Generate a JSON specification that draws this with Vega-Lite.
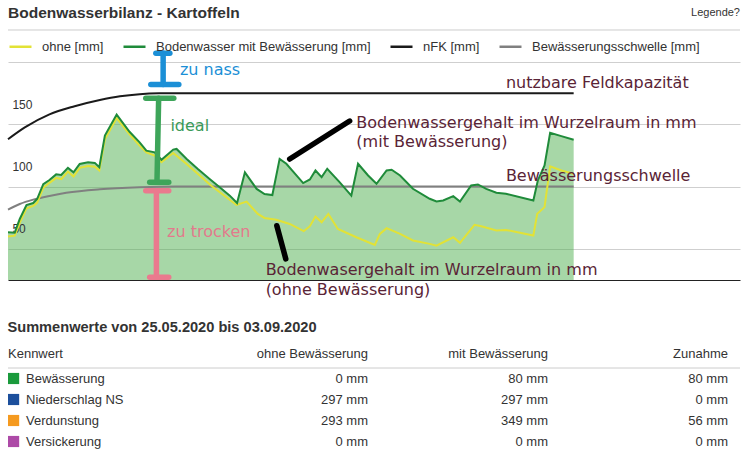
{
  "$schema": "https://vega.github.io/schema/vega-lite/v6.json",
  "background": "white",
  "padding": {"left": 4, "top": 6, "right": 9, "bottom": 0},
  "spacing": 22,
  "resolve": {"scale": {"fill": "independent", "stroke": "independent", "color": "independent"}},
  "config": {
    "view": {"stroke": null},
    "font": "Liberation Sans",
    "text": {"font": "Liberation Sans"},
    "title": {"font": "Liberation Sans"}
  },
  "datasets": {
    "mit": [
      {"tag":0,"mm":38.3},{"tag":1.2,"mm":38},{"tag":2.1,"mm":49},{"tag":3.3,"mm":60.2},{"tag":4.5,"mm":61.8},{"tag":5.2,"mm":65},{"tag":6.3,"mm":77},{"tag":7.4,"mm":80.3},{"tag":8.6,"mm":84.8},{"tag":9.5,"mm":84.3},{"tag":10.7,"mm":90},{"tag":11.7,"mm":86.5},{"tag":12.8,"mm":93.1},{"tag":14.3,"mm":94.5},{"tag":15.5,"mm":94},{"tag":16.3,"mm":90.5},{"tag":17.3,"mm":115.9},{"tag":19.4,"mm":132.8},{"tag":21.7,"mm":119},{"tag":23.5,"mm":110.5},{"tag":24.7,"mm":103.8},{"tag":26.2,"mm":102.5},{"tag":27.4,"mm":96.5},{"tag":29.5,"mm":104.7},{"tag":30.1,"mm":105.2},{"tag":31.9,"mm":97.2},{"tag":33.9,"mm":89.1},{"tag":36,"mm":81.1},{"tag":37.8,"mm":74.4},{"tag":39.6,"mm":67.7},{"tag":40.9,"mm":61.8},{"tag":42.3,"mm":86.4},{"tag":44.4,"mm":73.1},{"tag":45.8,"mm":69},{"tag":47.2,"mm":68.2},{"tag":48.5,"mm":97.2},{"tag":49.7,"mm":93.3},{"tag":52.7,"mm":77.8},{"tag":53.9,"mm":80.7},{"tag":54.9,"mm":87.9},{"tag":56,"mm":82.6},{"tag":57,"mm":89.3},{"tag":59.2,"mm":78.6},{"tag":61.3,"mm":67.8},{"tag":62.5,"mm":93.3},{"tag":64.3,"mm":83.9},{"tag":65.8,"mm":77.2},{"tag":67.6,"mm":87.9},{"tag":68.5,"mm":88.5},{"tag":70,"mm":83.9},{"tag":72.3,"mm":73.2},{"tag":75.3,"mm":65.2},{"tag":76.5,"mm":63},{"tag":77.7,"mm":63.8},{"tag":79.5,"mm":67.3},{"tag":80.7,"mm":63},{"tag":82.7,"mm":75.9},{"tag":83.9,"mm":76.7},{"tag":85.4,"mm":73.2},{"tag":87.2,"mm":70},{"tag":88.9,"mm":69.2},{"tag":93.8,"mm":63.8},{"tag":94.6,"mm":79.9},{"tag":95.8,"mm":92},{"tag":96.8,"mm":118.2},{"tag":98.8,"mm":115.5},{"tag":101,"mm":112.6}
    ],
    "ohne": [
      {"tag":0,"mm":35},{"tag":1.2,"mm":35.6},{"tag":2.1,"mm":46},{"tag":3.3,"mm":57.5},{"tag":4.5,"mm":59.5},{"tag":5.2,"mm":62},{"tag":6.3,"mm":74},{"tag":7.4,"mm":78},{"tag":8.6,"mm":82},{"tag":9.5,"mm":81},{"tag":10.7,"mm":87},{"tag":11.7,"mm":83},{"tag":12.8,"mm":90},{"tag":14.3,"mm":91.5},{"tag":15.5,"mm":91},{"tag":16.3,"mm":88},{"tag":17.3,"mm":113},{"tag":19.4,"mm":130},{"tag":21.7,"mm":117},{"tag":23.5,"mm":107.9},{"tag":24.7,"mm":102.5},{"tag":26.2,"mm":99.8},{"tag":27.4,"mm":94.5},{"tag":29.5,"mm":102},{"tag":31.9,"mm":93.1},{"tag":36.3,"mm":75.7},{"tag":40.8,"mm":60.2},{"tag":42.6,"mm":62.9},{"tag":44.6,"mm":53},{"tag":45.8,"mm":49.8},{"tag":47.9,"mm":48.4},{"tag":50.3,"mm":45},{"tag":52.8,"mm":39.2},{"tag":53.9,"mm":43.2},{"tag":54.9,"mm":51},{"tag":56,"mm":46.4},{"tag":57.2,"mm":53.1},{"tag":58.9,"mm":41},{"tag":62.2,"mm":34.3},{"tag":65.5,"mm":28.2},{"tag":66.4,"mm":37},{"tag":67.6,"mm":41.6},{"tag":70,"mm":37},{"tag":72.3,"mm":31.7},{"tag":75.3,"mm":29},{"tag":76.5,"mm":27.6},{"tag":79.5,"mm":34.3},{"tag":80.7,"mm":29.8},{"tag":83.3,"mm":44.3},{"tag":84.5,"mm":43.2},{"tag":87.2,"mm":39.7},{"tag":88.9,"mm":40.2},{"tag":93.8,"mm":35.7},{"tag":94.5,"mm":53.1},{"tag":95.8,"mm":58.5},{"tag":96.8,"mm":91.2},{"tag":98.8,"mm":87.9},{"tag":101,"mm":85.3}
    ],
    "nfk": [
      {"tag":0,"mm":113},{"tag":3,"mm":122.5},{"tag":7.4,"mm":133},{"tag":11.9,"mm":139.5},{"tag":16.4,"mm":144.5},{"tag":20,"mm":147.5},{"tag":23.5,"mm":149.2},{"tag":27,"mm":149.9},{"tag":30,"mm":150},{"tag":101,"mm":150}
    ],
    "schwelle": [
      {"tag":0,"mm":56.5},{"tag":2.1,"mm":61},{"tag":4.5,"mm":64.5},{"tag":7.4,"mm":67.5},{"tag":10.4,"mm":70},{"tag":16.4,"mm":72.8},{"tag":23.5,"mm":74.4},{"tag":30,"mm":75},{"tag":101,"mm":75}
    ],
    "skala": [
      {"mm": 50}, {"mm": 100}, {"mm": 150}
    ],
    "striche": [
      {"zone":"nass","tag":27.7,"tag2":27.7,"mm":182,"mm2":157},
      {"zone":"nass","tag":26.4,"tag2":28.9,"mm":182,"mm2":182},
      {"zone":"nass","tag":25.5,"tag2":30.5,"mm":157,"mm2":157},
      {"zone":"ideal","tag":26.9,"tag2":26.6,"mm":146,"mm2":78.5},
      {"zone":"ideal","tag":24.6,"tag2":29.6,"mm":146,"mm2":146},
      {"zone":"ideal","tag":25.3,"tag2":28.7,"mm":78.5,"mm2":78.5},
      {"zone":"trocken","tag":26.5,"tag2":26.5,"mm":71.7,"mm2":2.2},
      {"zone":"trocken","tag":24.6,"tag2":28.7,"mm":71.7,"mm2":71.7},
      {"zone":"trocken","tag":25.3,"tag2":28.7,"mm":2.2,"mm2":2.2},
      {"zone":"zeiger","tag":50.3,"tag2":61,"mm":97.1,"mm2":127.6},
      {"zone":"zeiger","tag":48,"tag2":49.6,"mm":43.6,"mm2":16.9}
    ],
    "beschriftung": [
      {"zone":"nass","tag":30.7,"mm":168.8,"text":"zu nass"},
      {"zone":"ideal","tag":29,"mm":123.9,"text":"ideal"},
      {"zone":"trocken","tag":28.4,"mm":38.5,"text":"zu trocken"},
      {"zone":"text","tag":88.9,"mm":158,"text":"nutzbare Feldkapazität"},
      {"zone":"text","tag":62.2,"mm":126.4,"text":"Bodenwassergehalt im Wurzelraum in mm\n(mit Bewässerung)"},
      {"zone":"text","tag":88.9,"mm":83.5,"text":"Bewässerungsschwelle"},
      {"zone":"text","tag":46,"mm":8,"text":"Bodenwasergehalt im Wurzelraum in mm\n(ohne Bewässerung)"}
    ],
    "tabelle": [
      {"kennwert":"Bewässerung","ohne":0,"mit":80,"zunahme":80},
      {"kennwert":"Niederschlag NS","ohne":297,"mit":297,"zunahme":0},
      {"kennwert":"Verdunstung","ohne":293,"mit":349,"zunahme":56},
      {"kennwert":"Versickerung","ohne":0,"mit":0,"zunahme":0}
    ],
    "kopf": [
      {"zeile":"Kennwert","spalte":"kennwert","titel":"Kennwert"},
      {"zeile":"Kennwert","spalte":"ohne","titel":"ohne Bewässerung"},
      {"zeile":"Kennwert","spalte":"mit","titel":"mit Bewässerung"},
      {"zeile":"Kennwert","spalte":"zunahme","titel":"Zunahme"}
    ]
  },
  "vconcat": [
    {
      "width": 732,
      "height": 218,
      "layer": [
        {
          "data": {"name": "mit"},
          "mark": {"type": "area", "fill": "#50b050", "fillOpacity": 0.5},
          "encoding": {
            "x": {"field": "tag", "type": "quantitative",
              "scale": {"domain": [0, 130.7], "nice": false, "zero": false},
              "axis": {"domain": true, "domainColor": "#222", "domainWidth": 1, "labels": false, "ticks": false, "grid": false, "title": null}},
            "y": {"field": "mm", "type": "quantitative",
              "scale": {"domain": [0, 175], "nice": false},
              "axis": {"values": [25, 50, 75, 100, 125, 150, 175], "grid": true, "gridColor": "#cfcfcf", "gridWidth": 1, "domain": false, "ticks": false, "labels": false, "title": null}}
          }
        },
        {
          "data": {"name": "skala"},
          "mark": {"type": "text", "align": "left", "baseline": "top", "fontSize": 12, "color": "#333", "dx": 4.4, "dy": 6.5},
          "encoding": {
            "x": {"datum": 0, "type": "quantitative"},
            "y": {"field": "mm", "type": "quantitative"},
            "text": {"field": "mm", "type": "quantitative"}
          }
        },
        {
          "data": {"name": "schwelle"},
          "mark": {"type": "line", "strokeWidth": 2, "interpolate": "monotone"},
          "encoding": {
            "x": {"field": "tag", "type": "quantitative"},
            "y": {"field": "mm", "type": "quantitative"},
            "color": {"datum": "Bewässerungsschwelle [mm]", "type": "nominal",
              "scale": {"domain": ["ohne [mm]", "Bodenwasser mit Bewässerung [mm]", "nFK [mm]", "Bewässerungsschwelle [mm]"],
                        "range": ["#e2e236", "#1f8b3a", "#1a1a1a", "#808080"]},
              "legend": {"title": null, "orient": "none", "legendX": 0, "legendY": -28, "direction": "horizontal",
                "symbolType": "stroke", "symbolStrokeWidth": 2.5, "symbolSize": 484, "labelLimit": 400,
                "labelFontSize": 13, "labelFont": "Liberation Sans", "labelColor": "#333", "labelOffset": 9, "columnPadding": 14, "padding": 0}}
          }
        },
        {
          "data": {"name": "nfk"},
          "mark": {"type": "line", "strokeWidth": 2, "interpolate": "monotone"},
          "encoding": {
            "x": {"field": "tag", "type": "quantitative"},
            "y": {"field": "mm", "type": "quantitative"},
            "color": {"datum": "nFK [mm]", "type": "nominal"}
          }
        },
        {
          "data": {"name": "ohne"},
          "mark": {"type": "line", "strokeWidth": 2},
          "encoding": {
            "x": {"field": "tag", "type": "quantitative"},
            "y": {"field": "mm", "type": "quantitative"},
            "color": {"datum": "ohne [mm]", "type": "nominal"}
          }
        },
        {
          "data": {"name": "mit"},
          "mark": {"type": "line", "strokeWidth": 2},
          "encoding": {
            "x": {"field": "tag", "type": "quantitative"},
            "y": {"field": "mm", "type": "quantitative"},
            "color": {"datum": "Bodenwasser mit Bewässerung [mm]", "type": "nominal"}
          }
        },
        {
          "data": {"name": "striche"},
          "mark": {"type": "rule", "strokeWidth": 5.5, "strokeCap": "round"},
          "encoding": {
            "x": {"field": "tag", "type": "quantitative"},
            "x2": {"field": "tag2"},
            "y": {"field": "mm", "type": "quantitative"},
            "y2": {"field": "mm2"},
            "stroke": {"field": "zone", "type": "nominal",
              "scale": {"domain": ["nass", "ideal", "trocken", "zeiger"], "range": ["#1b8fd6", "#3ea55a", "#ea7a8e", "#000000"]},
              "legend": null}
          }
        },
        {
          "data": {"name": "beschriftung"},
          "mark": {"type": "text", "align": "left", "baseline": "middle", "font": "DejaVu Sans", "fontSize": 16, "lineBreak": "\n", "lineHeight": 19.5},
          "encoding": {
            "x": {"field": "tag", "type": "quantitative"},
            "y": {"field": "mm", "type": "quantitative"},
            "text": {"field": "text"},
            "fill": {"field": "zone", "type": "nominal",
              "scale": {"domain": ["nass", "ideal", "trocken", "text"], "range": ["#1b8fd6", "#3a9a58", "#e27a8c", "#5a2436"]},
              "legend": null}
          }
        },
        {
          "data": {"values": [{}]},
          "mark": {"type": "text", "align": "left", "baseline": "middle", "fontSize": 15.5, "fontWeight": "bold", "color": "#333"},
          "encoding": {
            "x": {"datum": 0, "type": "quantitative"},
            "y": {"datum": 214.3, "type": "quantitative"},
            "text": {"value": "Bodenwasserbilanz - Kartoffeln"}
          }
        },
        {
          "data": {"values": [{}]},
          "mark": {"type": "text", "align": "right", "baseline": "middle", "fontSize": 11, "color": "#333"},
          "encoding": {
            "x": {"datum": 130.7, "type": "quantitative"},
            "y": {"datum": 214.3, "type": "quantitative"},
            "text": {"value": "Legende?"}
          }
        },
        {
          "data": {"values": [{}]},
          "mark": {"type": "rule", "color": "#cccccc", "strokeWidth": 1},
          "encoding": {
            "y": {"datum": 200.7, "type": "quantitative"}
          }
        }
      ]
    },
    {
      "width": 732,
      "height": 105,
      "title": {"text": "Summenwerte von 25.05.2020 bis 03.09.2020", "anchor": "start", "fontSize": 14.6, "fontWeight": "bold", "color": "#333", "font": "Liberation Sans", "offset": 12},
      "layer": [
        {
          "data": {"name": "tabelle"},
          "transform": [{"filter": "datum.kennwert === 'Bewässerung'"}],
          "mark": {"type": "rule", "color": "#cccccc", "strokeWidth": 1},
          "encoding": {
            "y": {"field": "kennwert", "type": "nominal", "bandPosition": 0,
              "scale": {"domain": ["Kennwert", "Bewässerung", "Niederschlag NS", "Verdunstung", "Versickerung"], "paddingInner": 0, "paddingOuter": 0},
              "axis": null}
          }
        },
        {
          "data": {"name": "kopf"},
          "transform": [{"filter": "datum.spalte === 'kennwert'"}],
          "mark": {"type": "text", "align": "left", "baseline": "middle", "fontSize": 13, "color": "#333", "dy": -4},
          "encoding": {
            "x": {"field": "spalte", "type": "nominal",
              "scale": {"type": "point", "domain": ["kennwert", "abstand", "ohne", "mit", "zunahme"], "padding": 0.03333, "align": 0},
              "axis": null},
            "y": {"field": "zeile", "type": "nominal", "axis": null},
            "text": {"field": "titel"}
          }
        },
        {
          "data": {"name": "kopf"},
          "transform": [{"filter": "datum.spalte !== 'kennwert'"}],
          "mark": {"type": "text", "align": "right", "baseline": "middle", "fontSize": 13, "color": "#333", "dy": -4},
          "encoding": {
            "x": {"field": "spalte", "type": "nominal", "axis": null},
            "y": {"field": "zeile", "type": "nominal", "axis": null},
            "text": {"field": "titel"}
          }
        },
        {
          "data": {"name": "tabelle"},
          "transform": [{"fold": ["kennwert"], "as": ["spalte", "name"]}],
          "mark": {"type": "point", "shape": "M0,-1H2V1H0Z", "size": 125, "filled": true, "opacity": 1, "strokeWidth": 0},
          "encoding": {
            "x": {"field": "spalte", "type": "nominal", "axis": null},
            "y": {"field": "kennwert", "type": "nominal", "axis": null},
            "fill": {"field": "kennwert", "type": "nominal",
              "scale": {"domain": ["Bewässerung", "Niederschlag NS", "Verdunstung", "Versickerung"], "range": ["#1a9a3c", "#1c4f9c", "#f59a1f", "#ad4aa7"]},
              "legend": null}
          }
        },
        {
          "data": {"name": "tabelle"},
          "transform": [{"fold": ["kennwert"], "as": ["spalte", "name"]}],
          "mark": {"type": "text", "align": "left", "baseline": "middle", "fontSize": 13, "color": "#333", "dx": 18},
          "encoding": {
            "x": {"field": "spalte", "type": "nominal", "axis": null},
            "y": {"field": "kennwert", "type": "nominal", "axis": null},
            "text": {"field": "name"}
          }
        },
        {
          "data": {"name": "tabelle"},
          "transform": [
            {"fold": ["ohne", "mit", "zunahme"], "as": ["spalte", "wert"]},
            {"calculate": "datum.wert + ' mm'", "as": "beschriftung"}
          ],
          "mark": {"type": "text", "align": "right", "baseline": "middle", "fontSize": 13, "color": "#333"},
          "encoding": {
            "x": {"field": "spalte", "type": "nominal", "axis": null},
            "y": {"field": "kennwert", "type": "nominal", "axis": null},
            "text": {"field": "beschriftung"}
          }
        }
      ]
    }
  ]
}
